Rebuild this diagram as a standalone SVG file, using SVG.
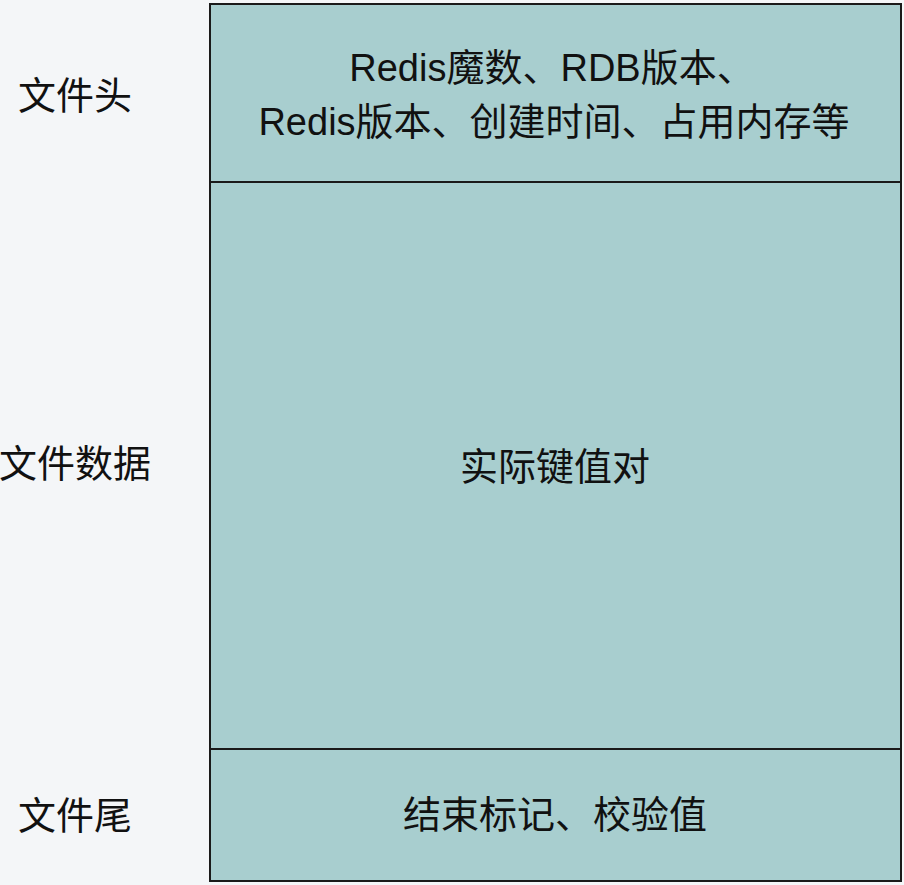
<svg xmlns="http://www.w3.org/2000/svg" width="904" height="885" viewBox="0 0 904 885">
<style>
.t{font-family:"Liberation Sans","Noto Sans CJK SC",sans-serif;font-size:38px;fill:#111;text-anchor:middle;dominant-baseline:central}
.b{fill:#a8cecf;stroke:#1a1a1a;stroke-width:2}
</style>
<rect width="904" height="885" fill="#f4f6f8"/>
<g id="header">
<rect class="b" x="210" y="4" width="691" height="178"/>
<text class="t" x="552" y="68">Redis魔数、RDB版本、</text>
<text class="t" x="554" y="122">Redis版本、创建时间、占用内存等</text>
</g>
<g id="data">
<rect class="b" x="210" y="182" width="691" height="567"/>
<text class="t" x="555" y="467">实际键值对</text>
</g>
<g id="footer">
<rect class="b" x="210" y="749" width="691" height="132"/>
<text class="t" x="555" y="815">结束标记、校验值</text>
</g>
<g id="labels">
<text class="t" x="75" y="96">文件头</text>
<text class="t" x="75" y="464">文件数据</text>
<text class="t" x="75" y="816">文件尾</text>
</g>
<g id="connectors"/>
</svg>
